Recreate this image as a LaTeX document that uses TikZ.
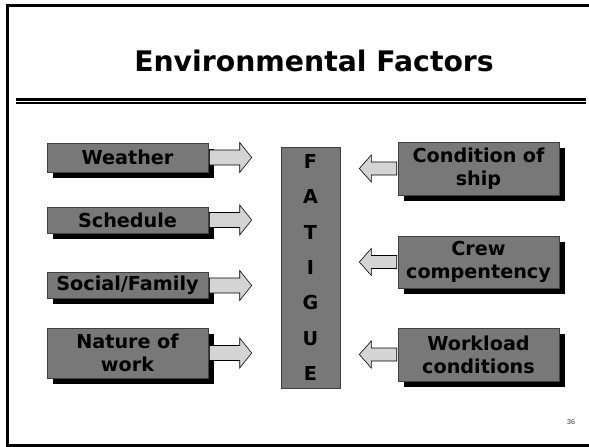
\documentclass[tikz,border=0pt]{standalone}
\usepackage{fontspec}
\setmainfont{DejaVu Sans}
\newfontfamily\numfont{Liberation Sans}
\usetikzlibrary{calc,shadows}
\definecolor{boxgray}{HTML}{787878}
\definecolor{arrowgray}{HTML}{D4D4D4}

% block arrow pointing right, from the east side of #1 towards the west side of #2
\newcommand\arrowright[2]{%
  \draw[blockarrow] let \p1=(#1.east), \p2=(#2.west),
      \n1={\x2-29pt}, \n2={\x2-41pt} in
    ({\x1+1pt},{\y1+7.5pt}) -- (\n2,{\y1+7.5pt}) -- (\n2,{\y1+15pt}) -- (\n1,\y1)
    -- (\n2,{\y1-15pt}) -- (\n2,{\y1-7.5pt}) -- ({\x1+1pt},{\y1-7.5pt}) -- cycle;}
% block arrow pointing left, from the west side of #1 towards the east side of #2
\newcommand\arrowleft[2]{%
  \draw[blockarrow] let \p1=(#1.west), \p2=(#2.east),
      \n1={\x2+19pt}, \n2={\x2+31pt} in
    ({\x1-1pt},{\y1+6.5pt}) -- (\n2,{\y1+6.5pt}) -- (\n2,{\y1+13.5pt}) -- (\n1,\y1)
    -- (\n2,{\y1-13.5pt}) -- (\n2,{\y1-6.5pt}) -- ({\x1-1pt},{\y1-6.5pt}) -- cycle;}

\begin{document}
\begin{tikzpicture}[x=1pt,y=-1pt,
  factor/.style={draw=black!75, line width=0.6pt, fill=boxgray, inner sep=0pt,
    minimum width=161pt, text width=159pt, align=center,
    font=\bfseries\fontsize{19.2}{23}\selectfont,
    drop shadow={opacity=1, fill=black, shadow xshift=5.5pt, shadow yshift=-5.5pt}},
  centre/.style={draw=black!75, line width=0.6pt, fill=boxgray, inner sep=0pt,
    minimum width=59pt, minimum height=241pt, align=center,
    font=\bfseries\fontsize{19.2}{35.3}\selectfont},
  blockarrow/.style={draw=black, line width=0.6pt, fill=arrowgray, line join=miter},
]
\useasboundingbox (0,0) rectangle (589,447);

% slide frame and title rule
\draw[line width=3pt] (592,5.5) -- (7.5,5.5) -- (7.5,445.5) -- (592,445.5);
\draw[line width=3.5pt] (16,99.5) -- (586,99.5);
\draw[line width=1.2pt] (16,103) -- (586,103);

\node[font=\bfseries\fontsize{28.3}{34}\selectfont] (title) at (314,61) {Environmental Factors};

% influencing factors, left column
\node[factor, minimum height=29pt] (weather) at (127.5,157.5) {Weather};
\node[factor, minimum height=26pt] (schedule) at (127.5,220) {Schedule};
\node[factor, minimum height=26pt] (social) at (127.5,285.5) {Social/Family};
\node[factor, minimum height=50pt] (nature) at (127.5,353) {Nature of\\work};

% central box
\node[centre] (fatigue) at (310.5,267.5) {F\\A\\T\\I\\G\\U\\E};

% influencing factors, right column
\node[factor, minimum height=53pt] (condition) at (478.5,168.5) {Condition of\\ship};
\node[factor, minimum height=52pt] (crew) at (478.5,262) {Crew\\compentency};
\node[factor, minimum height=53pt] (workload) at (478.5,354.5) {Workload\\conditions};

% connectors
\arrowright{weather}{fatigue}
\arrowright{schedule}{fatigue}
\arrowright{social}{fatigue}
\arrowright{nature}{fatigue}
\arrowleft{condition}{fatigue}
\arrowleft{crew}{fatigue}
\arrowleft{workload}{fatigue}

\node[font=\numfont\fontsize{7}{8}\selectfont, text=black!80] (page) at (571,422) {36};
\end{tikzpicture}
\end{document}
